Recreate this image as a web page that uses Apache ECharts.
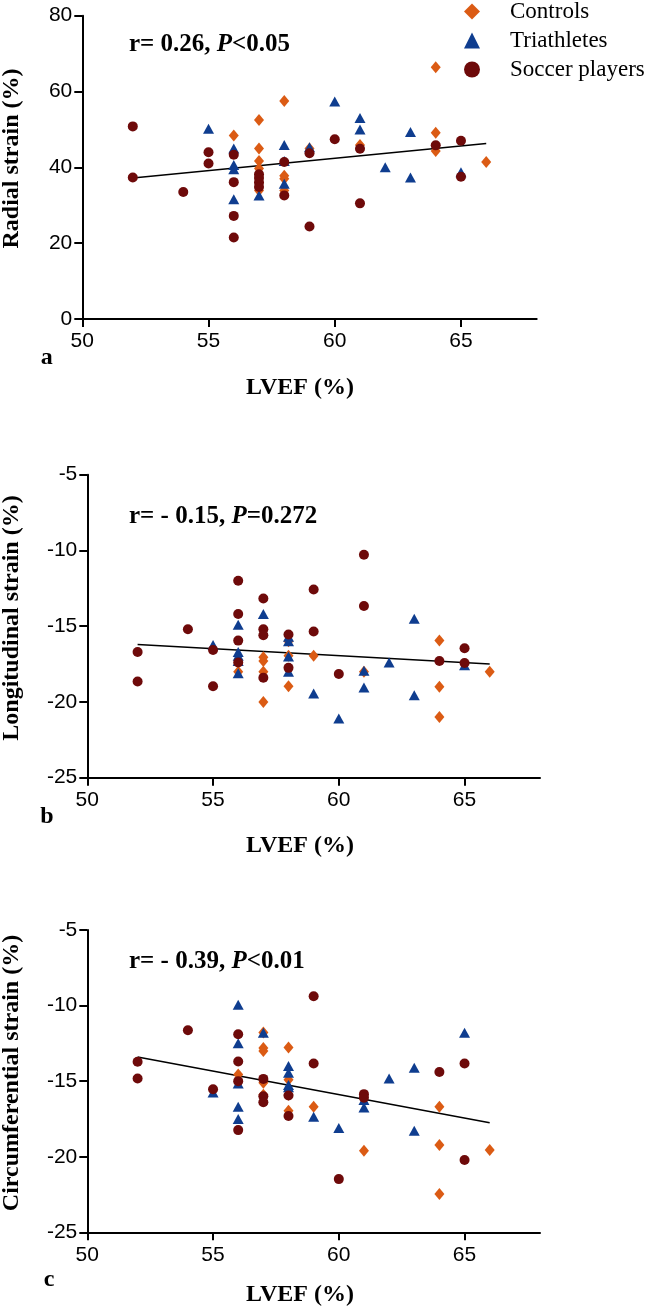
<!DOCTYPE html>
<html>
<head>
<meta charset="utf-8">
<script src="https://cdn.jsdelivr.net/npm/echarts@6/dist/echarts.min.js"></script>
<style>
html,body{margin:0;padding:0;background:#fff;}
#chart{width:646px;height:1307px;}
</style>
</head>
<body>
<div id="chart"></div>
<script>
// ---------- data ----------
const groupNames = ['Controls', 'Triathletes', 'Soccer players'];
const xTicks = [50, 55, 60, 65];
const yTicksRadial = [0, 20, 40, 60, 80];
const yTicksStrain = [-25, -20, -15, -10, -5];

// Panel a: Radial strain
const radialControls = [[56,48.4],[57,52.5],[57,45.0],[57,41.7],[57,39.7],[57,33.9],[58,57.5],[58,37.8],[58,37.0],[58,33.9],[59,45.0],[61,45.9],[64,66.4],[64,49.1],[64,44.3],[66,41.4]];
const radialTriathletes = [[55,50.2],[56,45.0],[56,40.6],[56,39.5],[56,31.6],[57,32.6],[58,45.9],[58,41.7],[58,35.7],[59,45.3],[60,57.4],[61,53.0],[61,50.0],[62,40.0],[63,49.3],[63,37.3],[65,38.7]];
const radialSoccer = [[52,50.8],[52,37.3],[54,33.5],[55,44.0],[55,41.0],[56,43.3],[56,36.1],[56,27.2],[56,21.5],[57,38.2],[57,37.2],[57,36.0],[57,34.8],[58,41.4],[58,32.6],[59,43.7],[59,24.4],[60,47.4],[61,44.9],[61,30.5],[64,45.8],[65,47.0],[65,37.5]];
const radialFit = [[52,37.2],[66,46.3]];

// Panel b: Longitudinal strain
const longControls = [[56,-18.0],[57,-17.05],[57,-17.3],[57,-18.0],[57,-20.0],[58,-16.0],[58,-16.95],[58,-18.96],[59,-16.95],[61,-18.0],[64,-15.95],[64,-19.0],[64,-21.0],[66,-18.0]];
const longTriathletes = [[55,-16.24],[56,-14.9],[56,-16.7],[56,-16.95],[56,-17.3],[56,-18.1],[57,-14.2],[58,-15.7],[58,-16.0],[58,-17.0],[58,-18.0],[59,-19.45],[60,-21.1],[61,-17.94],[61,-19.05],[62,-17.4],[63,-14.5],[63,-19.55],[65,-17.57]];
const longSoccer = [[52,-16.7],[52,-18.65],[54,-15.2],[55,-16.57],[55,-18.96],[56,-12.0],[56,-14.2],[56,-15.95],[56,-17.4],[57,-13.17],[57,-15.2],[57,-15.6],[57,-18.4],[58,-15.55],[58,-17.75],[59,-12.58],[59,-15.35],[60,-18.16],[61,-10.28],[61,-13.67],[64,-17.3],[65,-16.45],[65,-17.43]];
const longFit = [[52,-16.2],[66,-17.5]];

// Panel c: Circumferential strain
const circControls = [[56,-14.56],[57,-11.78],[57,-12.8],[57,-13.0],[57,-15.1],[57,-15.9],[58,-12.78],[58,-14.9],[58,-15.9],[58,-16.96],[59,-16.7],[61,-19.6],[64,-16.7],[64,-19.23],[64,-22.47],[66,-19.56]];
const circTriathletes = [[55,-15.75],[56,-9.95],[56,-12.5],[56,-15.15],[56,-16.7],[56,-17.5],[57,-11.8],[58,-14.0],[58,-14.45],[58,-15.26],[58,-15.4],[59,-17.36],[60,-18.1],[61,-16.25],[61,-16.74],[62,-14.82],[63,-14.12],[63,-18.28],[65,-11.8]];
const circSoccer = [[52,-13.72],[52,-14.82],[54,-11.63],[55,-15.53],[56,-11.9],[56,-13.7],[56,-15.0],[56,-18.24],[57,-14.85],[57,-16.0],[57,-16.4],[58,-15.95],[58,-17.3],[59,-9.38],[59,-13.83],[60,-21.48],[61,-15.86],[61,-16.1],[64,-14.4],[65,-13.83],[65,-20.22]];
const circFit = [[52,-13.4],[66,-17.75]];

const panelTitles = ['Radial strain (%)', 'Longitudinal strain (%)', 'Circumferential strain (%)'];
const statTexts = [['r= 0.26, ', 'P', '<0.05'], ['r= - 0.15, ', 'P', '=0.272'], ['r= - 0.39, ', 'P', '<0.01']];
const panelLetters = ['a', 'b', 'c'];
const xTitle = 'LVEF (%)';

// ---------- styles ----------
const colors = { 'Controls': '#DB5B14', 'Triathletes': '#0F3D8F', 'Soccer players': '#6E0A0A' };
const symbols = { 'Controls': 'diamond', 'Triathletes': 'triangle', 'Soccer players': 'circle' };
const sizes = { 'Controls': [10, 12], 'Triathletes': [11, 10], 'Soccer players': 10 };

const grids = [
  { left: 82.3, top: 15.7, width: 454.4, height: 303.3 },
  { left: 87.3, top: 474.7, width: 452.7, height: 303 },
  { left: 87.3, top: 930, width: 452.7, height: 302.3 }
];

const panels = [
  { data: [radialControls, radialTriathletes, radialSoccer], fit: radialFit, ticks: yTicksRadial, interval: 20 },
  { data: [longControls, longTriathletes, longSoccer], fit: longFit, ticks: yTicksStrain, interval: 5 },
  { data: [circControls, circTriathletes, circSoccer], fit: circFit, ticks: yTicksStrain, interval: 5 }
];

const axisLineStyle = { color: '#000', width: 2 };
const labelFont = { fontFamily: 'Liberation Sans, Arial, sans-serif', fontSize: 21, color: '#000' };

const xAxes = [], yAxes = [], series = [];
panels.forEach((p, i) => {
  xAxes.push({
    type: 'value', gridIndex: i, min: 50, max: 68, interval: 5,
    axisLine: { show: true, lineStyle: axisLineStyle },
    axisTick: { show: true, length: 8, lineStyle: { color: '#000', width: 2 }, customValues: xTicks },
    axisLabel: Object.assign({ margin: 12, customValues: xTicks }, labelFont),
    splitLine: { show: false }
  });
  yAxes.push({
    type: 'value', gridIndex: i, min: p.ticks[0], max: p.ticks[p.ticks.length - 1], interval: p.interval,
    axisLine: { show: true, lineStyle: axisLineStyle },
    axisTick: { show: true, length: 8, lineStyle: { color: '#000', width: 2 } },
    axisLabel: Object.assign({ margin: 10 }, labelFont),
    splitLine: { show: false }
  });
  series.push({
    type: 'line', xAxisIndex: i, yAxisIndex: i, data: p.fit, showSymbol: false, symbol: 'none',
    lineStyle: { color: '#000', width: 1.5 }, silent: true, z: 1, animation: false
  });
  [1, 0, 2].forEach(g => {
    const name = groupNames[g];
    series.push({
      type: 'scatter', name: name, xAxisIndex: i, yAxisIndex: i, data: p.data[g],
      symbol: symbols[name], symbolSize: sizes[name],
      itemStyle: { color: colors[name], opacity: 1 }, z: 2 + g, animation: false
    });
  });
});

// ---------- text graphics ----------
const serif = 'Liberation Serif, Times New Roman, serif';
const titleCenters = [[12, 158.5], [12, 618], [12, 1073]];
const statPos = [[129, 45], [129, 517], [129, 962]];
const letterPos = [[46.7, 358], [47, 817], [49, 1280]];
const xTitlePos = [[300, 388], [300, 846], [300, 1295]];
const graphics = [];
panels.forEach((p, i) => {
  graphics.push({
    type: 'text', x: titleCenters[i][0], y: titleCenters[i][1], rotation: Math.PI / 2,
    style: { text: panelTitles[i], font: 'bold 24px ' + serif, fill: '#000', align: 'center', verticalAlign: 'middle' }
  });
  const s = statTexts[i];
  graphics.push({
    type: 'text', x: statPos[i][0], y: statPos[i][1],
    style: {
      text: '{b|' + s[0] + '}{i|' + s[1] + '}{b|' + s[2] + '}',
      align: 'left', verticalAlign: 'middle',
      rich: {
        b: { font: 'bold 25px ' + serif, fill: '#000' },
        i: { font: 'italic bold 25px ' + serif, fill: '#000' }
      }
    }
  });
  graphics.push({
    type: 'text', x: letterPos[i][0], y: letterPos[i][1],
    style: { text: panelLetters[i], font: 'bold 24px ' + serif, fill: '#000', align: 'center', verticalAlign: 'middle' }
  });
  graphics.push({
    type: 'text', x: xTitlePos[i][0], y: xTitlePos[i][1],
    style: { text: xTitle, font: 'bold 24px ' + serif, fill: '#000', align: 'center', verticalAlign: 'middle' }
  });
});

const chart = echarts.init(document.getElementById('chart'), null, { renderer: 'canvas' });
chart.setOption({
  animation: false,
  backgroundColor: '#fff',
  grid: grids.map(g => Object.assign({ containLabel: false }, g)),
  xAxis: xAxes,
  yAxis: yAxes,
  legend: {
    orient: 'vertical', left: 464, top: 0, padding: 0,
    itemWidth: 16, itemHeight: 16, itemGap: 6,
    data: groupNames.map(n => ({ name: n, icon: symbols[n], itemStyle: { color: colors[n] } })),
    textStyle: { fontFamily: serif, fontSize: 23, color: '#000', padding: [0, 0, 0, 25] },
    selectedMode: false
  },
  series: series,
  graphic: graphics
});
</script>
</body>
</html>
